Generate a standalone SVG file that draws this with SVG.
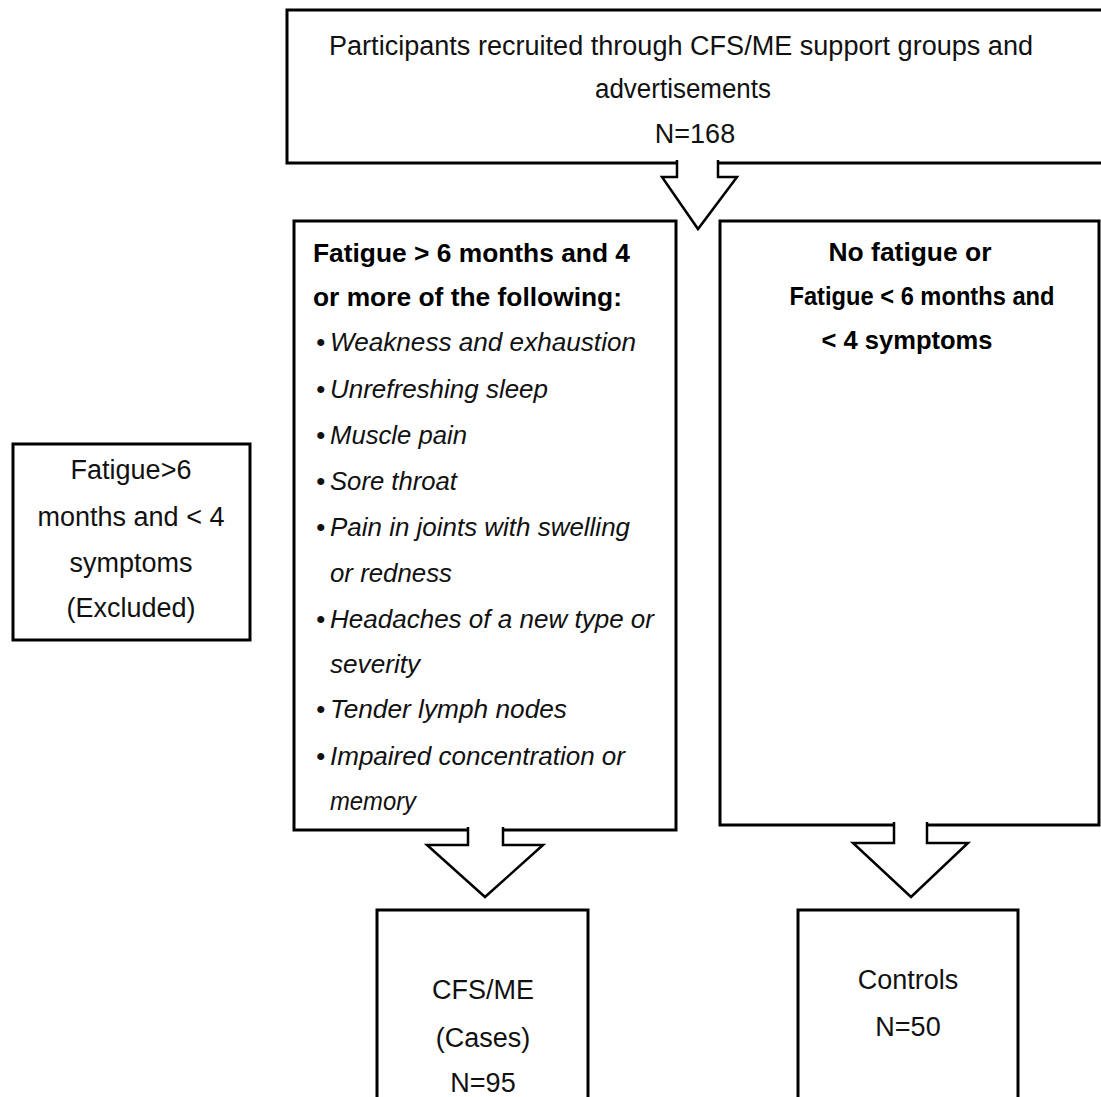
<svg xmlns="http://www.w3.org/2000/svg" width="1101" height="1097" viewBox="0 0 1101 1097">
<style>
.box{fill:#fff;stroke:#000;stroke-width:3}
.arr{fill:#fff;stroke:#000;stroke-width:2.5;stroke-linejoin:miter}
.t{font-family:"Liberation Sans",Arial,sans-serif;font-size:27px;fill:#111;text-anchor:middle}
.b{font-family:"Liberation Sans",Arial,sans-serif;font-size:26px;font-weight:bold;fill:#000}
.bc{text-anchor:middle}
.i{font-family:"Liberation Sans",Arial,sans-serif;font-size:26px;font-style:italic;fill:#111}
</style>
<rect width="1101" height="1097" fill="#fff"/>
<g id="recruited">
<rect class="box" x="287" y="10" width="830" height="153"/>
<text class="t" x="681" y="55" textLength="704" lengthAdjust="spacingAndGlyphs">Participants recruited through CFS/ME support groups and</text>
<text class="t" x="683" y="98" textLength="176" lengthAdjust="spacingAndGlyphs">advertisements</text>
<text class="t" x="695" y="143">N=168</text>
</g>
<g id="cases-criteria">
<rect class="box" x="294" y="221" width="382" height="609"/>
<text class="b" x="313" y="262" textLength="317" lengthAdjust="spacingAndGlyphs">Fatigue &gt; 6 months and 4</text>
<text class="b" x="313" y="306" textLength="309" lengthAdjust="spacingAndGlyphs">or more of the following:</text>
<g class="i">
<text x="316" y="351">•</text><text x="330" y="351" textLength="306" lengthAdjust="spacingAndGlyphs">Weakness and exhaustion</text>
<text x="316" y="398">•</text><text x="330" y="398" textLength="218" lengthAdjust="spacingAndGlyphs">Unrefreshing sleep</text>
<text x="316" y="444">•</text><text x="330" y="444" textLength="137" lengthAdjust="spacingAndGlyphs">Muscle pain</text>
<text x="316" y="490">•</text><text x="330" y="490" textLength="127" lengthAdjust="spacingAndGlyphs">Sore throat</text>
<text x="316" y="536">•</text><text x="330" y="536" textLength="300" lengthAdjust="spacingAndGlyphs">Pain in joints with swelling</text>
<text x="330" y="582" textLength="122" lengthAdjust="spacingAndGlyphs">or redness</text>
<text x="316" y="628">•</text><text x="330" y="628" textLength="324" lengthAdjust="spacingAndGlyphs">Headaches of a new type or</text>
<text x="330" y="673" textLength="90" lengthAdjust="spacingAndGlyphs">severity</text>
<text x="316" y="718">•</text><text x="330" y="718" textLength="237" lengthAdjust="spacingAndGlyphs">Tender lymph nodes</text>
<text x="316" y="765">•</text><text x="330" y="765" textLength="295" lengthAdjust="spacingAndGlyphs">Impaired concentration or</text>
<text x="330" y="810" textLength="86" lengthAdjust="spacingAndGlyphs">memory</text>
</g>
</g>
<g id="controls-criteria">
<rect class="box" x="720" y="221" width="379" height="604"/>
<text class="b bc" x="910" y="261" textLength="163" lengthAdjust="spacingAndGlyphs">No fatigue or</text>
<text class="b bc" x="922" y="305" textLength="265" lengthAdjust="spacingAndGlyphs">Fatigue &lt; 6 months and</text>
<text class="b bc" x="907" y="349" textLength="171" lengthAdjust="spacingAndGlyphs">&lt; 4 symptoms</text>
</g>
<g id="excluded">
<rect class="box" x="13" y="444" width="237" height="196"/>
<text class="t" x="131" y="479">Fatigue&gt;6</text>
<text class="t" x="131" y="526">months and &lt; 4</text>
<text class="t" x="131" y="572">symptoms</text>
<text class="t" x="131" y="617">(Excluded)</text>
</g>
<g id="cases">
<rect class="box" x="377" y="910" width="211" height="200"/>
<text class="t" x="483" y="999">CFS/ME</text>
<text class="t" x="483" y="1047">(Cases)</text>
<text class="t" x="483" y="1092">N=95</text>
</g>
<g id="controls">
<rect class="box" x="798" y="910" width="220" height="200"/>
<text class="t" x="908" y="989">Controls</text>
<text class="t" x="908" y="1036">N=50</text>
</g>
<g id="connectors">
<path class="arr" d="M677,160 V177 H662 L698,229 L737,177 H718 V160"/>
<path class="arr" d="M468,827 V845 H427 L485,897 L543,845 H503 V827"/>
<path class="arr" d="M894,822 V843 H853 L911,897 L968,843 H927 V822"/>
</g>
</svg>
